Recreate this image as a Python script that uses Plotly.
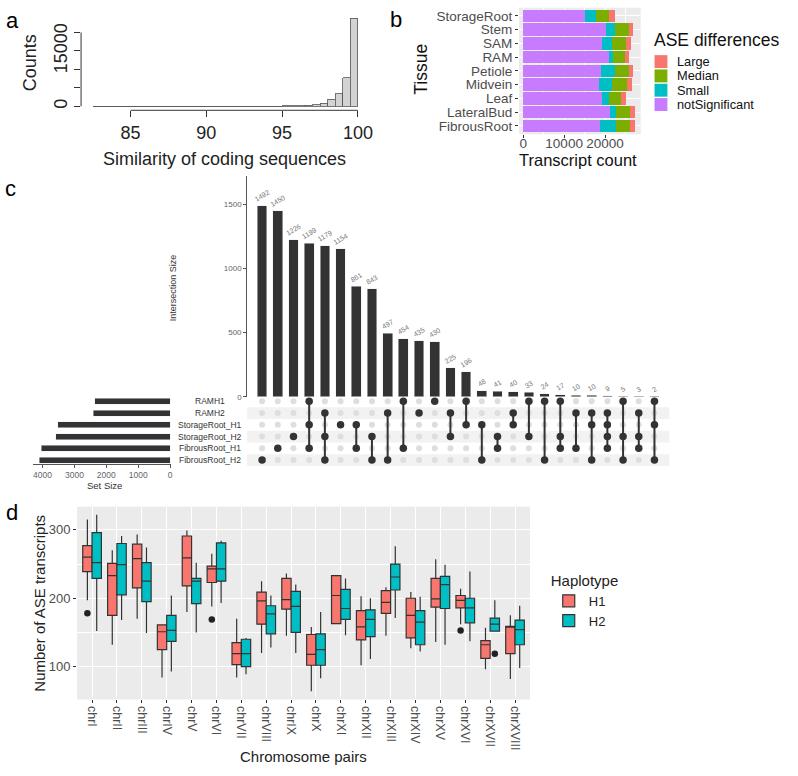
import plotly.graph_objects as go

W, H = 798, 776
FONT = "Liberation Sans, Arial, sans-serif"


def dom_x(a, b):
    return [a / W, b / W]


def dom_y(top, bottom):
    return [1 - bottom / H, 1 - top / H]


def px(x):
    return x / W


def py(y):
    return 1 - y / H


# ---------------- data: panel a ----------------
sim_bin_start = [82.5, 83.0, 83.5, 84.0, 84.5, 85.0, 85.5, 86.0, 86.5, 87.0, 87.5, 88.0,
                 88.5, 89.0, 89.5, 90.0, 90.5, 91.0, 91.5, 92.0, 92.5, 93.0, 93.5, 94.0,
                 94.5, 95.0, 95.5, 96.0, 96.5, 97.0, 97.5, 98.0, 98.5, 99.0, 99.5]
sim_counts = [2, 1, 2, 3, 2, 4, 3, 5, 4, 6, 6, 8, 9, 10, 12, 14, 17, 19, 24, 28, 34, 40,
              50, 62, 78, 100, 130, 150, 250, 450, 800, 1900, 3400, 7700, 23900]
sim_tickvals = [85, 90, 95, 100]
count_tickvals = [0, 5000, 10000, 15000, 20000]
count_ticktext = ["0", "", "", "15000", ""]

# ---------------- data: panel b ----------------
tissues = ["FibrousRoot", "LateralBud", "Leaf", "Midvein", "Petiole", "RAM", "SAM", "Stem", "StorageRoot"]
ase_notsig = [18800, 21200, 19200, 18400, 18960, 21040, 19200, 20160, 15200]
ase_small = [3840, 1440, 1840, 3360, 3440, 960, 2560, 2240, 2560]
ase_median = [3360, 3360, 2800, 3680, 3440, 2800, 3440, 3440, 3280]
ase_large = [1200, 1200, 1200, 1120, 960, 1040, 1200, 960, 1360]
ase_levels = ["notSignificant", "Small", "Median", "Large"]
ase_colors = ["#C77CFF", "#00BFC4", "#7CAE00", "#F8766D"]
count_b_tickvals = [0, 10000, 20000]

# ---------------- data: panel c ----------------
set_names = ["RAMH1", "RAMH2", "StorageRoot_H1", "StorageRoot_H2", "FibrousRoot_H1", "FibrousRoot_H2"]
set_sizes = [2360, 2408, 3519, 3581, 4044, 4100]
inter_sizes = [1492, 1450, 1226, 1199, 1179, 1154, 861, 843, 497, 454, 435, 430, 225, 196,
               48, 41, 40, 33, 24, 17, 10, 10, 9, 5, 3, 2]
inter_sets = [
    ["FibrousRoot_H2"],
    ["FibrousRoot_H1"],
    ["StorageRoot_H2"],
    ["RAMH1", "StorageRoot_H1", "FibrousRoot_H1"],
    ["RAMH2", "StorageRoot_H2", "FibrousRoot_H2"],
    ["StorageRoot_H1"],
    ["StorageRoot_H1", "FibrousRoot_H1"],
    ["StorageRoot_H2", "FibrousRoot_H2"],
    ["RAMH2", "FibrousRoot_H2"],
    ["RAMH1", "FibrousRoot_H1"],
    ["RAMH2"],
    ["RAMH1"],
    ["RAMH2", "StorageRoot_H2"],
    ["RAMH1", "StorageRoot_H1"],
    ["StorageRoot_H1", "FibrousRoot_H2"],
    ["StorageRoot_H2", "FibrousRoot_H1"],
    ["RAMH2", "StorageRoot_H1"],
    ["RAMH1", "StorageRoot_H2"],
    ["RAMH1", "FibrousRoot_H2"],
    ["RAMH1", "StorageRoot_H2", "FibrousRoot_H1"],
    ["RAMH2", "FibrousRoot_H1"],
    ["RAMH2", "StorageRoot_H1", "FibrousRoot_H2"],
    ["RAMH2", "StorageRoot_H1", "StorageRoot_H2", "FibrousRoot_H1"],
    ["RAMH1", "StorageRoot_H2", "FibrousRoot_H2"],
    ["RAMH2", "StorageRoot_H2", "FibrousRoot_H1"],
    ["RAMH1", "StorageRoot_H1", "FibrousRoot_H2"],
]
inter_tickvals = [0, 500, 1000, 1500]
setsize_tickvals = [0, 1000, 2000, 3000, 4000]

# ---------------- data: panel d ----------------
chroms = ["chrI", "chrII", "chrIII", "chrIV", "chrV", "chrVI", "chrVII", "chrVIII", "chrIX",
          "chrX", "chrXI", "chrXII", "chrXIII", "chrXIV", "chrXV", "chrXVI", "chrXVII", "chrXVIII"]
h1_low = [197, 132, 170, 84, 180, 188, 84, 120, 145, 64, 162, 102, 145, 127, 136, 162, 96, 82]
h1_q1 = [239, 175, 215, 125, 218, 223, 103, 162, 184, 102, 163, 139, 178, 142, 187, 186, 112, 119]
h1_med = [260, 233, 258, 151, 259, 243, 119, 196, 198, 118, 204, 158, 194, 175, 199, 197, 132, 158]
h1_q3 = [277, 251, 279, 161, 291, 247, 135, 209, 229, 147, 233, 182, 211, 200, 229, 204, 138, 159]
h1_high = [315, 270, 293, 162, 299, 265, 170, 225, 236, 158, 234, 203, 216, 209, 257, 214, 157, 175]
h1_out_chr = ["chrI", "chrVI", "chrXVI"]
h1_out_val = [178, 169, 153]

h2_low = [152, 168, 149, 93, 150, 193, 89, 128, 120, 83, 146, 111, 171, 122, 132, 137, 152, 98]
h2_q1 = [229, 205, 195, 137, 192, 225, 100, 148, 150, 102, 169, 144, 212, 132, 185, 164, 152, 132]
h2_med = [252, 249, 225, 153, 225, 243, 119, 177, 188, 125, 185, 169, 231, 165, 220, 186, 162, 154]
h2_q3 = [296, 280, 252, 175, 229, 281, 140, 189, 210, 148, 213, 183, 250, 182, 232, 200, 171, 168]
h2_high = [322, 291, 274, 204, 252, 284, 142, 204, 220, 180, 229, 200, 276, 202, 249, 239, 197, 189]
h2_out_chr = ["chrXVII"]
h2_out_val = [119]
asetx_tickvals = [100, 200, 300]

fig = go.Figure()
shapes = []
annotations = []

# ================= panel a =================
fig.add_trace(go.Bar(x=sim_bin_start, y=sim_counts, width=0.5, offset=0,
                     marker=dict(color="#d3d3d3", line=dict(color="#555555", width=0.8)),
                     xaxis="x", yaxis="y", showlegend=False, hoverinfo="skip"))
shapes.append(dict(type="line", xref="x", yref="y domain", x0=sim_tickvals[0], x1=sim_tickvals[-1],
                   y0=0, y1=0, line=dict(color="#333", width=1)))
shapes.append(dict(type="line", xref="x domain", yref="y", x0=0, x1=0,
                   y0=count_tickvals[0], y1=count_tickvals[-1], line=dict(color="#333", width=1)))

# ================= panel b =================
series_b = [ase_notsig, ase_small, ase_median, ase_large]
for name, vals, col in zip(ase_levels, series_b, ase_colors):
    fig.add_trace(go.Bar(x=vals, y=tissues, orientation="h", width=0.9, name=name,
                         marker=dict(color=col, line=dict(width=0)),
                         xaxis="x2", yaxis="y2", showlegend=False))
shapes.append(dict(type="rect", xref="x2 domain", yref="y2 domain", x0=0, x1=1, y0=0, y1=1,
                   fillcolor="#EBEBEB", line=dict(width=0), layer="below"))
# ggplot-style legend for panel b
annotations.append(dict(x=px(659), y=py(40), xref="paper", yref="paper", text="ASE differences",
                        showarrow=False, xanchor="left", yanchor="middle",
                        font=dict(size=17.5, color="#111")))
for k, (name, col) in enumerate(zip(ase_levels[::-1], ase_colors[::-1])):
    yc = 62 + k * 14.4
    shapes.append(dict(type="rect", xref="paper", yref="paper", x0=px(662), x1=px(675),
                       y0=py(yc + 6.5), y1=py(yc - 6.5), fillcolor=col, line=dict(width=0)))
    annotations.append(dict(x=px(684), y=py(yc), xref="paper", yref="paper", text=name,
                            showarrow=False, xanchor="left", yanchor="middle", borderpad=0,
                            font=dict(size=12.8, color="#111")))

# ================= panel c =================
inter_x = list(range(1, len(inter_sizes) + 1))
fig.add_trace(go.Bar(x=inter_x, y=inter_sizes, width=0.62, marker=dict(color="#333333"),
                     text=[str(v) for v in inter_sizes], textposition="outside", textangle=-30,
                     constraintext="none", cliponaxis=False,
                     textfont=dict(size=7, color="#777"),
                     xaxis="x3", yaxis="y3", showlegend=False))

cat_order = set_names[::-1]
for nm in set_names:
    if nm.endswith("H2"):
        i = cat_order.index(nm)
        shapes.append(dict(type="rect", xref="x4 domain", yref="y4", x0=0, x1=1,
                           y0=i - 0.5, y1=i + 0.5, fillcolor="#F2F2F2",
                           line=dict(width=0), layer="below"))

in_x, in_y, ln_x, ln_y, ac_x, ac_y = [], [], [], [], [], []
for xi, members in zip(inter_x, inter_sets):
    rows = sorted(set_names.index(m) for m in members)
    for nm in set_names:
        if nm in members:
            ac_x.append(xi)
            ac_y.append(nm)
        else:
            in_x.append(xi)
            in_y.append(nm)
    if len(rows) > 1:
        ln_x += [xi, xi, None]
        ln_y += [set_names[rows[0]], set_names[rows[-1]], None]

mgrp = dict(offsetgroup="matrix", alignmentgroup="matrix")
fig.add_trace(go.Scatter(x=in_x, y=in_y, mode="markers", marker=dict(color="#DEDEDE", size=6),
                         xaxis="x4", yaxis="y4", showlegend=False, hoverinfo="skip", **mgrp))
fig.add_trace(go.Scatter(x=ln_x, y=ln_y, mode="lines", line=dict(color="#333", width=2),
                         xaxis="x4", yaxis="y4", showlegend=False, hoverinfo="skip", **mgrp))
fig.add_trace(go.Scatter(x=ac_x, y=ac_y, mode="markers", marker=dict(color="#333", size=7.5),
                         xaxis="x4", yaxis="y4", showlegend=False, **mgrp))

fig.add_trace(go.Bar(x=set_sizes, y=set_names, orientation="h", width=0.5,
                     marker=dict(color="#333333"), xaxis="x5", yaxis="y5", showlegend=False))
for nm in set_names:
    annotations.append(dict(x=px(212), y=nm, xref="paper", yref="y4", text=nm, showarrow=False,
                            xanchor="center", yanchor="middle", font=dict(size=8.5, color="#333")))

# ================= panel d =================
for name, lo, q1, med, q3, hi, col in [
    ("H1", h1_low, h1_q1, h1_med, h1_q3, h1_high, "#F8766D"),
    ("H2", h2_low, h2_q1, h2_med, h2_q3, h2_high, "#00BFC4"),
]:
    fig.add_trace(go.Box(x=chroms, q1=q1, median=med, q3=q3, lowerfence=lo, upperfence=hi,
                         name=name, offsetgroup=name, alignmentgroup="hap",
                         fillcolor=col, whiskerwidth=0,
                         line=dict(color="#333333", width=1.2),
                         xaxis="x6", yaxis="y6", legend="legend2", showlegend=True))
for name, oc, ov in [("H1", h1_out_chr, h1_out_val), ("H2", h2_out_chr, h2_out_val)]:
    fig.add_trace(go.Scatter(x=oc, y=ov, mode="markers", name=name + " outliers",
                             offsetgroup=name, alignmentgroup="hap", orientation="v",
                             marker=dict(color="#222222", size=6.5),
                             xaxis="x6", yaxis="y6", showlegend=False))
shapes.append(dict(type="rect", xref="x6 domain", yref="y6 domain", x0=0, x1=1, y0=0, y1=1,
                   fillcolor="#EBEBEB", line=dict(width=0), layer="below"))

# ================= texts =================
def ann(x, y, text, size, color="#111", angle=0, xanchor="center"):
    annotations.append(dict(x=px(x), y=py(y), xref="paper", yref="paper", text=text,
                            showarrow=False, textangle=angle, xanchor=xanchor, yanchor="middle",
                            font=dict(size=size, color=color)))


ann(13, 21, "a", 22, "#000")
ann(401, 20, "b", 22, "#000")
ann(11, 190, "c", 22, "#000")
ann(12, 516, "d", 22, "#000")
ann(30, 63, "Counts", 18, "#222", -90)
ann(227, 160, "Similarity of coding sequences", 18, "#222")
ann(425, 70, "Tissue", 17.5, "#111", -90)
ann(585, 161, "Transcript count", 16.5, "#111")
ann(175, 290, "Intersection Size", 9, "#333", -90)
ann(106, 489, "Set Size", 9.5, "#333")
ann(40, 607, "Number of ASE transcripts", 15, "#222", -90)
ann(307, 761, "Chromosome pairs", 15, "#222")

gray_tick = dict(size=13.5, color="#4D4D4D")
fig.update_layout(
    width=W, height=H, margin=dict(l=0, r=0, t=0, b=0),
    paper_bgcolor="white", plot_bgcolor="rgba(0,0,0,0)",
    font=dict(family=FONT, color="#222"),
    barmode="stack", boxmode="group", boxgap=0.25, boxgroupgap=0.0,
    scattermode="group", scattergap=0.25,
    shapes=shapes, annotations=annotations,
    xaxis=dict(anchor="y", domain=dom_x(82, 368), range=[81.74, 100.39], tickvals=sim_tickvals,
               ticks="outside", ticklen=6, tickcolor="#333", showgrid=False, zeroline=False,
               showline=False, tickangle=0, tickfont=dict(size=18, color="#222")),
    yaxis=dict(anchor="x", domain=dom_y(15, 111), range=[-1076, 24758], tickvals=count_tickvals,
               ticktext=count_ticktext, tickangle=-90, ticks="outside", ticklen=6,
               tickcolor="#333", showgrid=False, zeroline=False, showline=False,
               tickfont=dict(size=18, color="#222")),
    xaxis2=dict(anchor="y2", domain=dom_x(525, 648), range=[-1000, 28700],
                tickvals=count_b_tickvals, ticktext=[str(v) for v in count_b_tickvals],
                ticks="outside", ticklen=3, tickcolor="#333", tickangle=0,
                ticklabelstandoff=-6,
                showgrid=True, gridcolor="white", gridwidth=1.1, zeroline=False,
                minor=dict(tickvals=[5000, 15000, 25000], showgrid=True, gridcolor="white",
                           gridwidth=0.5),
                tickfont=gray_tick),
    yaxis2=dict(anchor="x2", domain=dom_y(7.7, 135), type="category", categoryorder="array",
                categoryarray=tissues, tickvals=tissues, range=[-0.6, len(tissues) - 0.4],
                ticks="outside", ticklen=3, tickcolor="#333", showgrid=True,
                gridcolor="white", tickfont=gray_tick),
    xaxis3=dict(anchor="y3", domain=dom_x(250, 677), range=[0.05, len(inter_sizes) + 0.95],
                visible=False),
    yaxis3=dict(anchor="x3", domain=dom_y(177.3, 399.3), range=[0, 1721], tickvals=inter_tickvals,
                ticks="outside", ticklen=3, tickcolor="#555", showline=True, linecolor="#555",
                linewidth=1, showgrid=False, zeroline=False,
                tickfont=dict(size=8, color="#666")),
    xaxis4=dict(anchor="y4", domain=dom_x(250, 677), range=[0.05, len(inter_sizes) + 0.95],
                visible=False),
    yaxis4=dict(anchor="x4", domain=dom_y(398, 469), type="category", categoryorder="array",
                categoryarray=cat_order, range=[-0.5, len(set_names) - 0.5], visible=False),
    xaxis5=dict(anchor="y5", domain=dom_x(33, 173), range=[4310, -31], tickvals=setsize_tickvals,
                ticks="outside", ticklen=3, tickcolor="#555", showline=True, linecolor="#555",
                showgrid=False, zeroline=False, tickangle=0,
                tickfont=dict(size=8.5, color="#666")),
    yaxis5=dict(anchor="x5", domain=dom_y(398, 467), type="category", categoryorder="array",
                categoryarray=cat_order, range=[-0.331, len(set_names) - 0.5], visible=False),
    xaxis6=dict(anchor="y6", domain=dom_x(78, 536), type="category", categoryorder="array",
                categoryarray=chroms, range=[-0.6, len(chroms) - 0.4],
                ticks="outside", ticklen=3, tickcolor="#333", tickangle=90,
                showgrid=True, gridcolor="white", gridwidth=1.1,
                tickfont=dict(size=12.5, color="#4D4D4D")),
    yaxis6=dict(anchor="x6", domain=dom_y(510, 704), range=[52, 333.8], tickvals=asetx_tickvals,
                ticks="outside", ticklen=3, tickcolor="#333", showgrid=True,
                gridcolor="white", gridwidth=1.1, zeroline=False,
                minor=dict(tickvals=[150, 250], showgrid=True, gridcolor="white", gridwidth=0.5),
                tickfont=dict(size=13, color="#4D4D4D")),
    legend2=dict(x=px(555), y=py(570), xanchor="left", yanchor="top",
                 bgcolor="rgba(0,0,0,0)",
                 title=dict(text="Haplotype", font=dict(size=15, color="#222")),
                 font=dict(size=13, color="#222"), tracegroupgap=0),
    showlegend=True,
)

fig.write_html("out.html", config={"displayModeBar": False},
               post_script="document.body.style.margin='0';")
